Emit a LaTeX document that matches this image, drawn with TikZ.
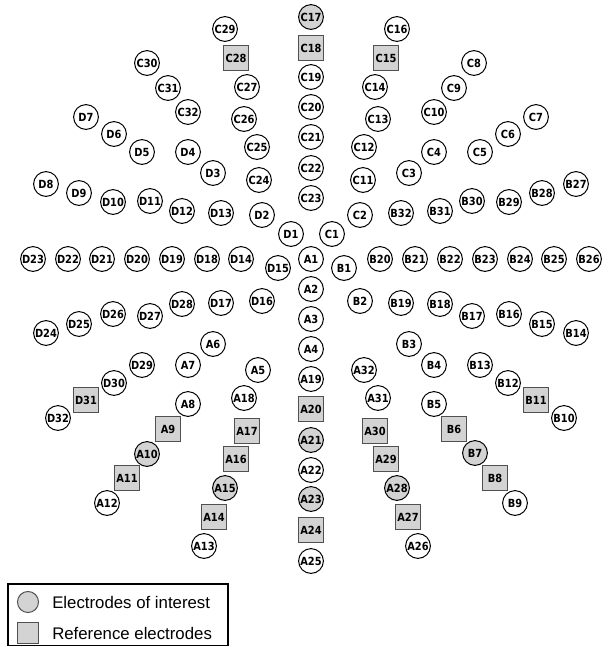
\documentclass[tikz,border=0pt]{standalone}
\usepackage{fontspec}
\setmainfont{Liberation Sans}
\newfontfamily\elfont[FakeStretch=0.88]{DejaVu Sans}
\definecolor{elgray}{RGB}{211,211,211}
\definecolor{refedge}{RGB}{80,80,80}

\begin{document}
\begin{tikzpicture}[x=0.75pt,y=-0.75pt,
  el/.style={circle,draw=black,line width=0.75pt,minimum size=18.6pt,inner sep=0pt,fill=white,font=\elfont\bfseries\fontsize{8.4}{9}\selectfont},
  elint/.style={el,fill=elgray},
  elref/.style={el,rectangle,draw=refedge,minimum size=19pt,fill=elgray},
  legtext/.style={anchor=west,inner sep=0pt,font=\fontsize{12.6}{15}\selectfont}]
\useasboundingbox (0,0) rectangle (615,647);
\foreach \n/\x/\y in {C18/311/48, C28/236/58, C15/386/58, A20/311/409, A24/311/530, D31/86/400, B11/536/400, A9/168/429, A11/127/478, A17/247/431, A16/236/459, A14/214/517, A30/375/431, A29/386/459, A27/408/517, B6/454/429, B8/495/478}
  {\node[elref] (\n) at (\x,\y) {\n};}
\foreach \n/\x/\y in {C17/311/17, A21/311/440, A23/311/499, A10/147/454, A15/225/488, A28/397/488, B7/475/453}
  {\node[elint] (\n) at (\x,\y) {\n};}
\foreach \n/\x/\y in {C19/311/77, C20/311/107, C21/311/137, C22/311/168, C23/311/198, A1/311/259, A2/311/289, A3/311/319, A4/311/349, A19/311/379, A22/311/470, A25/311/561,
  C29/225/29, C27/247/87, C26/244/119, C25/257/147, C24/259/180, D2/262/215, D1/291/234, D3/213/173, D13/221/213, D4/188/152, C32/188/112, C31/168/88, C30/147/63, D5/142/152, D6/114/134, D7/86/117, D8/46/184, D9/79/193, D10/113/202, D11/150/201, D12/182/211,
  C16/397/29, C14/375/87, C13/378/119, C12/364/147, C11/363/180, C2/360/215, C1/332/234, C3/409/173, B32/401/213, C4/434/152, C10/434/112, C9/454/88, C8/474/63, C5/480/152, C6/508/134, C7/536/117, B27/576/184, B28/542/193, B29/509/202, B30/472/201, B31/440/211,
  D23/33/259, D22/68/259, D21/102/259, D20/137/259, D19/172/259, D18/207/259, D14/241/259, D15/278/268, B1/344/268, B20/380/259, B21/415/259, B22/450/259, B23/485/259, B24/520/259, B25/554/259, B26/589/259,
  D24/46/333, D25/79/324, D26/113/314, D27/150/316, D28/182/304, D17/221/303, D16/262/301, A6/213/344, A7/188/365, D29/142/365, D30/114/383, D32/58/418, A5/258/370, A18/244/398, A13/204/546, A8/188/404, A12/107/503,
  B14/576/333, B15/542/324, B16/509/314, B17/472/316, B18/440/304, B19/401/303, B2/360/301, B3/409/344, B4/434/365, B13/480/365, B12/508/383, B10/564/418, A32/364/370, A31/378/398, A26/418/546, B5/434/404, B9/515/503}
  {\node[el] (\n) at (\x,\y) {\n};}
% legend
\draw[line width=1.1pt] (8,584) rectangle (228,645.5);
\node[elint,minimum size=15.8pt,draw=refedge] (legint) at (28,602) {};
\node[elref,minimum size=16pt] (legref) at (28,633) {};
\node[legtext] (legintlabel) at (52,602) {Electrodes of interest};
\node[legtext] (legreflabel) at (52,633) {Reference electrodes};
\end{tikzpicture}
\end{document}
